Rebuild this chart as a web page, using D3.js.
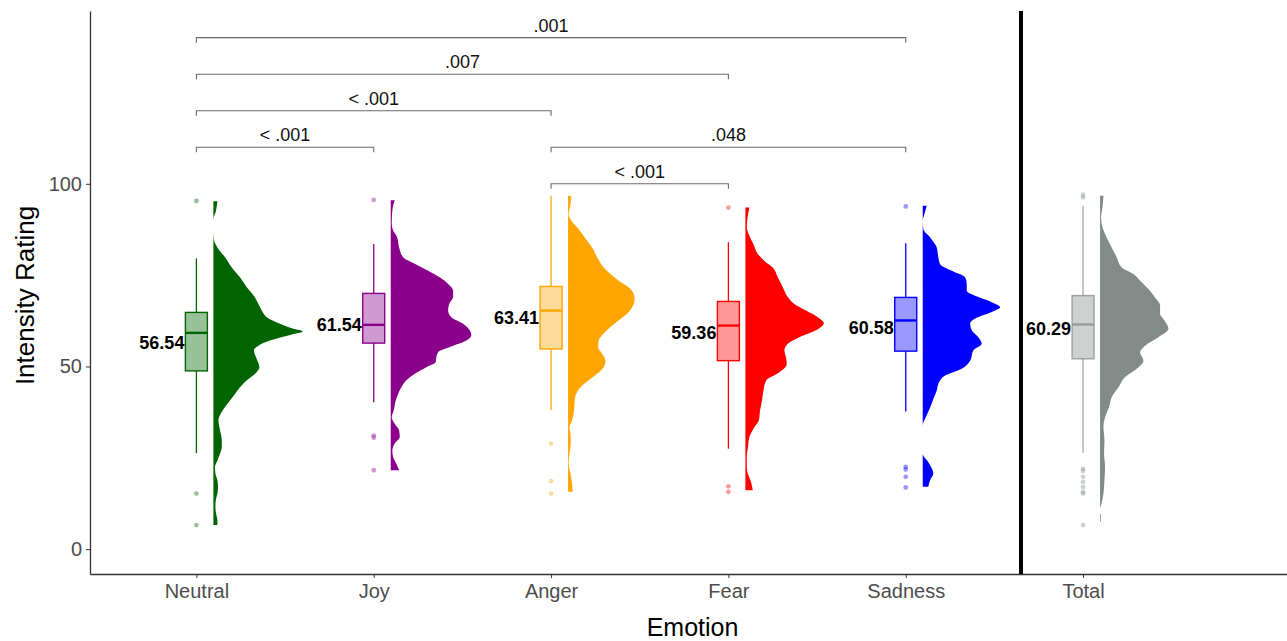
<!DOCTYPE html>
<html>
<head>
<meta charset="utf-8">
<script src="https://cdn.jsdelivr.net/npm/d3@7"></script>
<style>
  html, body { margin: 0; padding: 0; background: #fff; }
  svg { display: block; font-family: "Liberation Sans", Arial, sans-serif; }
</style>
</head>
<body>
<div id="chart"></div>
<script>
// Categories and summary stats
const emotions = ['Neutral', 'Joy', 'Anger', 'Fear', 'Sadness', 'Total'];
const means = [56.54, 61.54, 63.41, 59.36, 60.58, 60.29];
const medians = [59.2, 61.4, 65.3, 61.2, 62.6, 61.5];
const q1 = [48.8, 56.4, 54.8, 51.6, 54.2, 52.1];
const q3 = [64.8, 70.0, 71.9, 67.8, 68.9, 69.4];
const whiskerLow = [26.3, 40.2, 38.0, 27.5, 37.7, 26.3];
const whiskerHigh = [79.6, 83.5, 96.7, 84.0, 83.7, 94.0];
const outliers = [
  [95.3, 15.2, 6.6],
  [95.6, 31.1, 30.5, 21.6],
  [28.9, 18.6, 15.2],
  [93.5, 17.2, 15.7],
  [93.8, 22.5, 21.8, 19.8, 16.9],
  [97.0, 96.3, 22.0, 21.4, 19.8, 18.4, 17.0, 15.7, 15.2, 6.6]
];

// Half-violin density profiles: [rating, density]
const densityNeutral = [
  [95.2, 0.002], [92.6, 0.0013], [90.1, 0], [87.2, 0], [84.6, 0.0003], [82.6, 0.002],
  [79.9, 0.0058], [77.1, 0.0092], [74.4, 0.0133], [71.7, 0.0167], [68.9, 0.0208],
  [67.1, 0.0225], [65.3, 0.0242], [63.5, 0.0267], [61.7, 0.0333], [60.3, 0.040],
  [59.6, 0.0447], [58.9, 0.040], [57.1, 0.0283], [55.7, 0.0225], [54.4, 0.0203],
  [52.5, 0.0213], [49.8, 0.023], [48.0, 0.0208], [46.2, 0.0167], [44.3, 0.0133],
  [42.5, 0.0108], [40.7, 0.0083], [38.9, 0.0058], [37.1, 0.0037], [35.2, 0.0025],
  [33.4, 0.003], [31.6, 0.0037], [29.8, 0.0042], [28.0, 0.0042], [26.1, 0.0033],
  [24.3, 0.002], [22.5, 0.0008], [20.7, 0.001], [18.9, 0.002], [17.0, 0.0023],
  [15.2, 0.002], [13.4, 0.0012], [11.6, 0.001], [9.8, 0.0013], [7.9, 0.002], [6.6, 0.002]
];
const densityJoy = [
  [95.5, 0.002], [92.7, 0.0008], [89.0, 0.0005], [87.2, 0.0012], [85.4, 0.0032],
  [82.6, 0.0042], [79.9, 0.0062], [78.1, 0.012], [76.2, 0.0187], [74.4, 0.0245],
  [72.6, 0.0287], [70.8, 0.0312], [69.0, 0.0312], [67.1, 0.0292], [65.3, 0.0287],
  [63.5, 0.0303], [61.7, 0.0362], [59.9, 0.0395], [58.5, 0.0403], [57.1, 0.0378],
  [55.3, 0.0295], [53.9, 0.0237], [52.5, 0.0228], [51.2, 0.0225], [49.8, 0.0178],
  [48.0, 0.012], [46.2, 0.0078], [44.3, 0.0053], [42.5, 0.0037], [40.7, 0.0025],
  [38.0, 0.0015], [36.1, 0.0005], [34.3, 0.002], [32.5, 0.0042], [30.7, 0.0045],
  [28.9, 0.002], [27.0, 0.0008], [25.2, 0.0012], [23.4, 0.0028], [21.6, 0.0042]
];
const densityAnger = [
  [96.7, 0.0015], [94.4, 0.0012], [91.7, 0.0003], [89.9, 0.0017], [88.1, 0.0045],
  [86.3, 0.007], [84.4, 0.0095], [82.6, 0.012], [79.9, 0.0145], [77.1, 0.0178],
  [75.3, 0.0212], [73.5, 0.0253], [71.7, 0.0303], [69.9, 0.0328], [68.5, 0.0333],
  [66.2, 0.032], [64.4, 0.0295], [62.6, 0.0253], [60.8, 0.0212], [59.0, 0.0178],
  [57.1, 0.0153], [55.3, 0.015], [53.5, 0.017], [51.7, 0.0187], [49.8, 0.0178],
  [48.0, 0.0145], [46.2, 0.0103], [44.3, 0.0062], [42.5, 0.004], [40.7, 0.0033],
  [38.0, 0.003], [35.2, 0.002], [33.4, 0.0007], [31.6, 0.0012], [28.9, 0.0013],
  [26.1, 0.0007], [23.4, 0.0003], [20.7, 0.0012], [17.9, 0.002], [15.7, 0.0023]
];
const densityFear = [
  [93.5, 0.002], [91.1, 0.0012], [88.1, 0.0007], [86.2, 0.0017], [83.5, 0.004],
  [80.8, 0.0062], [78.9, 0.0095], [77.1, 0.0137], [74.4, 0.0162], [71.7, 0.0187],
  [69.0, 0.0212], [67.1, 0.0245], [65.3, 0.0303], [63.5, 0.0362], [61.9, 0.0392],
  [59.9, 0.0353], [58.0, 0.027], [56.2, 0.0212], [54.4, 0.0195], [52.5, 0.0203],
  [50.7, 0.0207], [48.4, 0.017], [46.1, 0.0103], [43.4, 0.009], [40.7, 0.0083],
  [37.9, 0.0073], [35.2, 0.0067], [33.4, 0.0045], [30.7, 0.002], [28.0, 0.0013],
  [25.2, 0.0007], [22.5, 0.0007], [20.7, 0.0012], [18.4, 0.0028], [16.1, 0.0037]
];
const densitySadness = [
  [94.0, 0.002], [91.7, 0.0008], [89.9, 0], [87.6, 0.0003], [85.3, 0.0037],
  [82.6, 0.007], [79.9, 0.0078], [78.0, 0.0087], [76.2, 0.0145], [74.4, 0.0212],
  [72.6, 0.022], [70.8, 0.022], [69.0, 0.0278], [67.6, 0.0345], [66.2, 0.0387],
  [64.9, 0.0345], [63.1, 0.0262], [61.7, 0.0237], [59.9, 0.0245], [58.0, 0.0278],
  [56.2, 0.0295], [54.4, 0.0253], [51.6, 0.0237], [49.4, 0.0195], [47.5, 0.0112],
  [45.2, 0.0078], [43.4, 0.007], [41.1, 0.0053], [38.8, 0.0037], [36.1, 0.0015],
  [33.8, 0], [26.2, 0], [25.6, 0.0003], [24.4, 0.002], [22.5, 0.0042],
  [20.7, 0.0053], [18.9, 0.0037], [17.1, 0.0028]
];
const densityTotal = [
  [96.7, 0.0017], [93.5, 0.0012], [90.8, 0.0005], [88.1, 0.0012], [85.3, 0.0033],
  [82.6, 0.0058], [79.9, 0.0083], [77.1, 0.0108], [75.3, 0.0167], [73.5, 0.020],
  [71.7, 0.0233], [68.9, 0.0275], [66.7, 0.030], [64.4, 0.030], [62.6, 0.0322],
  [60.3, 0.0342], [58.0, 0.0292], [55.7, 0.0225], [53.9, 0.020], [51.6, 0.0217],
  [49.8, 0.0192], [47.1, 0.0125], [44.3, 0.0092], [41.6, 0.0058], [38.9, 0.0045],
  [36.1, 0.0025], [33.4, 0.0017], [29.8, 0.0022], [26.1, 0.002], [22.5, 0.0025],
  [18.9, 0.0022], [15.2, 0.0017], [12.0, 0.0005], [11.0, 0], [9.6, 0], [9.5, 0.0004], [7.6, 0.0004]
];
const densities = [densityNeutral, densityJoy, densityAnger, densityFear, densitySadness, densityTotal];

// Pairwise comparisons: [from, to, p label, bracket height]
const comparisons = [
  ['Neutral', 'Sadness', '.001', 140],
  ['Neutral', 'Fear', '.007', 130],
  ['Neutral', 'Anger', '< .001', 120],
  ['Neutral', 'Joy', '< .001', 110],
  ['Anger', 'Sadness', '.048', 110],
  ['Anger', 'Fear', '< .001', 100]
];
const yTicks = [0, 50, 100];

const palette = ['#006400', '#8B008B', '#FFA500', '#FF0000', '#0000FF', '#838B88'];

const W = 1287, H = 641;
const margin = { top: 11, right: 0, bottom: 67, left: 90 };

const svg = d3.select('#chart').append('svg')
  .attr('width', W)
  .attr('height', H);

const x = d3.scaleLinear().domain([-0.6, 6.15]).range([margin.left, W - margin.right]);
const y = d3.scaleLinear().domain([-6.8, 147.3]).range([H - margin.bottom, margin.top]);
const w = d3.scaleLinear().domain([0, 0.045]).range([0, 90]);

const boxHalf = 11;
const violinGap = 17;

// Violins
const area = d3.area()
  .curve(d3.curveMonotoneY)
  .y(d => y(d[0]));

emotions.forEach((name, i) => {
  const base = x(i) + violinGap;
  svg.append('path')
    .datum(densities[i])
    .attr('fill', palette[i])
    .attr('d', area.x0(base).x1(d => base + w(d[1])));
});

// Boxplots
emotions.forEach((name, i) => {
  const cx = x(i);
  const g = svg.append('g').attr('class', 'box');
  const col = palette[i];
  const sw = i === 5 ? 0.75 : 1;

  g.append('line')
    .attr('x1', cx).attr('x2', cx)
    .attr('y1', y(whiskerHigh[i])).attr('y2', y(q3[i]))
    .attr('stroke', col).attr('stroke-opacity', sw).attr('stroke-width', 1.3);
  g.append('line')
    .attr('x1', cx).attr('x2', cx)
    .attr('y1', y(q1[i])).attr('y2', y(whiskerLow[i]))
    .attr('stroke', col).attr('stroke-opacity', sw).attr('stroke-width', 1.3);

  g.append('rect')
    .attr('x', cx - boxHalf)
    .attr('y', y(q3[i]))
    .attr('width', boxHalf * 2)
    .attr('height', y(q1[i]) - y(q3[i]))
    .attr('fill', col).attr('fill-opacity', 0.4)
    .attr('stroke', col).attr('stroke-opacity', sw).attr('stroke-width', 1.4);

  g.append('line')
    .attr('x1', cx - boxHalf).attr('x2', cx + boxHalf)
    .attr('y1', y(medians[i])).attr('y2', y(medians[i]))
    .attr('stroke', col).attr('stroke-opacity', sw).attr('stroke-width', 2.4);

  g.selectAll('circle')
    .data(outliers[i])
    .join('circle')
    .attr('cx', cx)
    .attr('cy', d => y(d))
    .attr('r', 2.4)
    .attr('fill', col)
    .attr('fill-opacity', 0.4);

  svg.append('text')
    .attr('x', cx - boxHalf - 1)
    .attr('y', y(means[i]))
    .attr('dy', '0.36em')
    .attr('text-anchor', 'end')
    .attr('fill', '#000')
    .style('font-size', '18px')
    .style('font-weight', 'bold')
    .text(means[i].toFixed(2));
});

// Significance brackets
comparisons.forEach(([a, b, label, level]) => {
  const x1 = x(emotions.indexOf(a));
  const x2 = x(emotions.indexOf(b));
  const yy = y(level);
  svg.append('path')
    .attr('d', `M${x1},${yy + 5}V${yy}H${x2}V${yy + 5}`)
    .attr('fill', 'none')
    .attr('stroke', '#6b6b6b')
    .attr('stroke-width', 1.1);
  svg.append('text')
    .attr('x', (x1 + x2) / 2)
    .attr('y', yy - 6)
    .attr('text-anchor', 'middle')
    .attr('fill', '#111')
    .style('font-size', '18px')
    .text(label);
});

// Axes
const xAxis = d3.axisBottom(x)
  .tickValues(d3.range(emotions.length))
  .tickFormat(i => emotions[i])
  .tickSize(4)
  .tickSizeOuter(0)
  .tickPadding(6);

const yAxis = d3.axisLeft(y)
  .tickValues(yTicks)
  .tickSize(4)
  .tickSizeOuter(0)
  .tickPadding(4);

const xAxisGroup = svg.append('g')
  .attr('transform', `translate(0,${H - margin.bottom})`)
  .call(xAxis);
xAxisGroup.selectAll('text').attr('fill', '#4d4d4d').style('font-size', '20px');
xAxisGroup.selectAll('line').attr('stroke', '#333');
xAxisGroup.select('.domain').attr('stroke', '#333').attr('stroke-width', 1.3);

const yAxisGroup = svg.append('g')
  .attr('transform', `translate(${margin.left},0)`)
  .call(yAxis);
yAxisGroup.selectAll('text').attr('fill', '#4d4d4d').style('font-size', '20px');
yAxisGroup.selectAll('line').attr('stroke', '#333');
yAxisGroup.select('.domain').attr('stroke', '#333').attr('stroke-width', 1.3);

// Separator between emotions and total
svg.append('line')
  .attr('x1', x(4.65)).attr('x2', x(4.65))
  .attr('y1', margin.top).attr('y2', H - margin.bottom)
  .attr('stroke', '#000')
  .attr('stroke-width', 4);

// Axis titles
svg.append('text')
  .attr('transform', `translate(34,${(margin.top + H - margin.bottom) / 2 + 3}) rotate(-90)`)
  .attr('text-anchor', 'middle')
  .attr('fill', '#000')
  .style('font-size', '26px')
  .text('Intensity Rating');

svg.append('text')
  .attr('x', (margin.left + W - margin.right) / 2 + 4)
  .attr('y', 636)
  .attr('text-anchor', 'middle')
  .attr('fill', '#000')
  .style('font-size', '25px')
  .text('Emotion');
</script>
</body>
</html>
